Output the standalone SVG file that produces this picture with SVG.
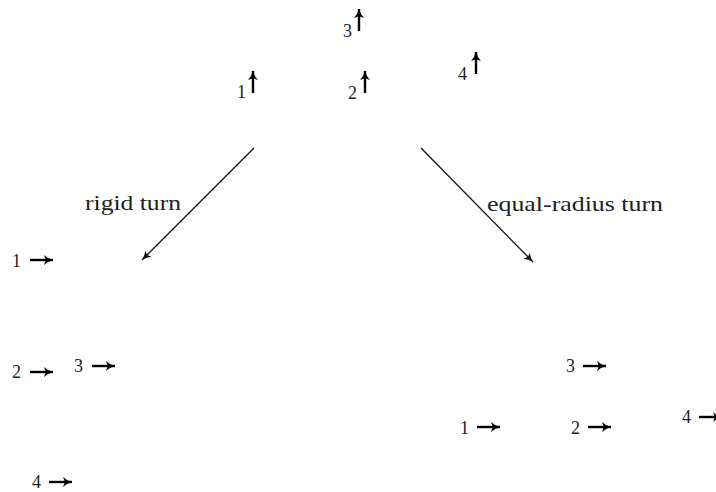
<svg xmlns="http://www.w3.org/2000/svg" width="716" height="492" viewBox="0 0 716 492" font-family="'Liberation Serif', 'DejaVu Serif', serif">
<defs>
<style>
text{font-family:'Liberation Serif','DejaVu Serif',serif;fill:#222}
.d{font-size:18px}
.lbl{font-size:21px}
.a{stroke:#000;stroke-width:2.4;fill:none;marker-end:url(#hd)}
.c{stroke:#111;stroke-width:1.3;fill:none;marker-end:url(#hd2)}
</style>
<marker id="hd" markerUnits="userSpaceOnUse" markerWidth="14" markerHeight="14" viewBox="-1 -7 14 14" refX="9" refY="0" orient="auto">
<path d="M0,-5 Q3.5,-1.5 9,0 Q3.5,1.5 0,5 L1.8,0 Z" fill="#000"/>
</marker>
<marker id="hd2" markerUnits="userSpaceOnUse" markerWidth="14" markerHeight="14" viewBox="-1 -7 14 14" refX="9" refY="0" orient="auto">
<path d="M0,-4.5 Q3.5,-1.3 9,0 Q3.5,1.3 0,4.5 L1.8,0 Z" fill="#111"/>
</marker>
</defs>
<g id="connectors">
<line class="c" x1="254" y1="148" x2="142" y2="260"/>
<line class="c" x1="421" y1="148" x2="533" y2="262"/>
</g>
<g id="label-rigid"><text class="lbl" x="85" y="210" textLength="96" lengthAdjust="spacingAndGlyphs">rigid turn</text></g>
<g id="label-equal"><text class="lbl" x="487" y="211" textLength="176" lengthAdjust="spacingAndGlyphs">equal-radius turn</text></g>
<g id="top">
<g id="t1"><text class="d" x="237" y="98">1</text><line class="a" x1="253" y1="93" x2="253" y2="71"/></g>
<g id="t2"><text class="d" x="348" y="99">2</text><line class="a" x1="365" y1="93" x2="365" y2="71"/></g>
<g id="t3"><text class="d" x="343" y="37">3</text><line class="a" x1="359" y1="31" x2="359" y2="9"/></g>
<g id="t4"><text class="d" x="458" y="80">4</text><line class="a" x1="476" y1="74" x2="476" y2="52"/></g>
</g>
<g id="rigid">
<g id="r1"><text class="d" x="12" y="267">1</text><line class="a" x1="30" y1="260" x2="53" y2="260"/></g>
<g id="r2"><text class="d" x="12" y="378">2</text><line class="a" x1="30" y1="372" x2="53" y2="372"/></g>
<g id="r3"><text class="d" x="74" y="372">3</text><line class="a" x1="92" y1="366" x2="115" y2="366"/></g>
<g id="r4"><text class="d" x="32" y="488">4</text><line class="a" x1="49" y1="482" x2="72" y2="482"/></g>
</g>
<g id="equal">
<g id="e1"><text class="d" x="460" y="434">1</text><line class="a" x1="477" y1="427" x2="500" y2="427"/></g>
<g id="e2"><text class="d" x="571" y="434">2</text><line class="a" x1="588" y1="427" x2="611" y2="427"/></g>
<g id="e3"><text class="d" x="566" y="372">3</text><line class="a" x1="583" y1="366" x2="606" y2="366"/></g>
<g id="e4"><text class="d" x="682" y="423">4</text><line class="a" x1="699" y1="417" x2="722" y2="417"/></g>
</g>
</svg>
